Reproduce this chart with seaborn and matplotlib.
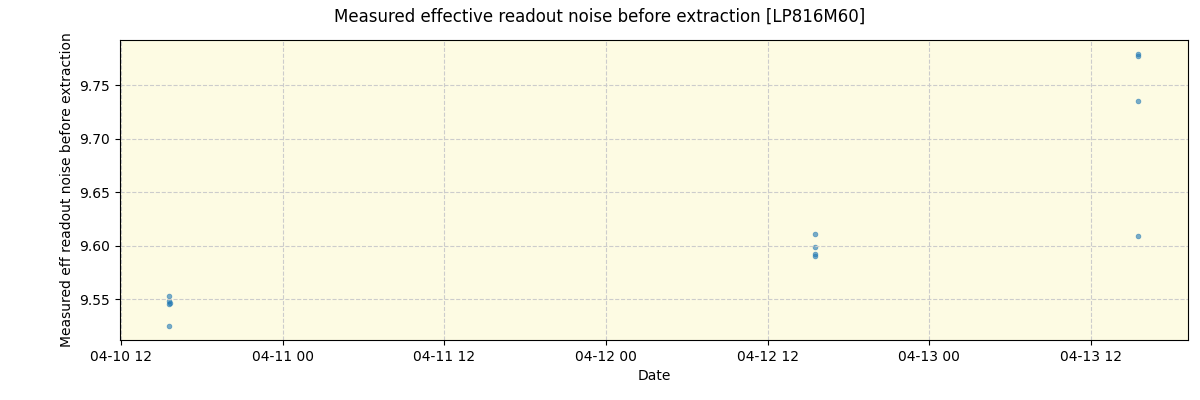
import numpy as np
import pandas as pd
import matplotlib
matplotlib.use("Agg")
import matplotlib.pyplot as plt
import matplotlib.dates as mdates
import seaborn as sns

times = ["2024-04-10 15:36", "2024-04-10 15:36", "2024-04-10 15:36", "2024-04-10 15:37", "2024-04-10 15:36",
         "2024-04-12 15:30", "2024-04-12 15:29", "2024-04-12 15:30", "2024-04-12 15:30",
         "2024-04-13 15:30", "2024-04-13 15:31", "2024-04-13 15:31", "2024-04-13 15:31"]
noise = [9.553, 9.548, 9.546, 9.547, 9.525,
         9.611, 9.599, 9.592, 9.590,
         9.777, 9.779, 9.735, 9.609]

df = pd.DataFrame({"date": pd.to_datetime(times), "noise": noise})

fig, ax = plt.subplots(figsize=(12, 4), dpi=100)
ax.set_facecolor("#fdfbe3")
sns.scatterplot(data=df, x="date", y="noise", ax=ax, s=12, color="#1f77b4",
                alpha=0.6, edgecolor="#1f77b4", linewidth=0.5)
ax.grid(True, linestyle="--", color="#cccccc")
ax.set_xlim(pd.Timestamp("2024-04-10 11:56"), pd.Timestamp("2024-04-13 19:12"))
ax.set_ylim(9.512, 9.792)
ax.xaxis.set_major_locator(mdates.HourLocator(byhour=[0, 12]))
ax.xaxis.set_major_formatter(mdates.DateFormatter("%m-%d %H"))
ax.set_xlabel("Date")
ax.set_ylabel("Measured eff readout noise before extraction")
fig.suptitle("Measured effective readout noise before extraction [LP816M60]")
fig.subplots_adjust(left=0.1, right=0.99, top=0.9, bottom=0.15)
fig.savefig("out.png")
